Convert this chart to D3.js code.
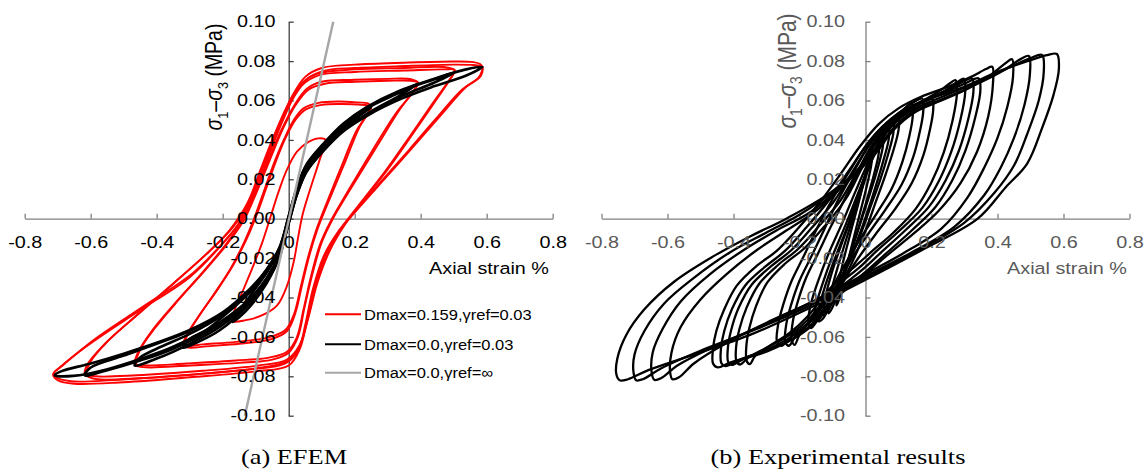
<!DOCTYPE html>
<html>
<head>
<meta charset="utf-8">
<script src="https://cdn.jsdelivr.net/npm/d3@7"></script>
<style>
  body { margin: 0; background: #fff; }
  svg { display: block; }
</style>
</head>
<body>
<div id="chart"></div>
<script>
const svgWidth = 1146;
const svgHeight = 469;

// ticks
const xTickVals = [-0.8, -0.6, -0.4, -0.2, 0, 0.2, 0.4, 0.6, 0.8];
const yTickVals = [0.1, 0.08, 0.06, 0.04, 0.02, 0, -0.02, -0.04, -0.06, -0.08, -0.1];

// (a) EFEM -- Dmax=0.159, yref=0.03 (red)
const redA = [[0.112,0.040],[0.094,0.030],[0.064,0.0144],[0.042,0.002],[0.028,-0.010],[0.015,-0.022],[-0.005,-0.034],[-0.035,-0.044],[-0.08,-0.049],[-0.13,-0.0515],[-0.17,-0.052],[-0.165,-0.047],[-0.14,-0.037],[-0.11,-0.025],[-0.08,-0.012],[-0.055,0.001],[-0.03,0.014],[-0.005,0.025],[0.025,0.034],[0.06,0.039],[0.09,0.0408]];
const redB = [[0.25,0.057],[0.235,0.052],[0.215,0.0466],[0.164,0.026],[0.114,0.006],[0.088,-0.005],[0.062,-0.019],[0.04,-0.034],[0.02,-0.048],[-0.005,-0.057],[-0.05,-0.061],[-0.15,-0.0635],[-0.25,-0.0648],[-0.30,-0.0655],[-0.32,-0.0645],[-0.312,-0.060],[-0.275,-0.050],[-0.225,-0.038],[-0.175,-0.025],[-0.135,-0.012],[-0.105,0.0],[-0.075,0.014],[-0.045,0.028],[-0.015,0.040],[0.015,0.050],[0.045,0.056],[0.09,0.0588],[0.15,0.0595],[0.21,0.059],[0.24,0.0585]];
const redB2 = [[0.25,0.057],[0.228,0.0505],[0.205,0.0445],[0.155,0.0245],[0.108,0.005],[0.083,-0.006],[0.058,-0.02],[0.036,-0.035],[0.016,-0.0485],[-0.01,-0.0565],[-0.06,-0.0602],[-0.16,-0.0625],[-0.26,-0.0638],[-0.305,-0.0645],[-0.315,-0.0632],[-0.305,-0.0585],[-0.268,-0.0485],[-0.218,-0.0365],[-0.168,-0.0235],[-0.128,-0.0105],[-0.098,0.0015],[-0.068,0.0155],[-0.038,0.0295],[-0.008,0.0415],[0.022,0.0505],[0.052,0.0555],[0.1,0.0578],[0.16,0.0582],[0.22,0.0578]];
const redC = [[0.392,0.069],[0.375,0.064],[0.336,0.0553],[0.266,0.0364],[0.185,0.0144],[0.134,0.0],[0.10,-0.012],[0.072,-0.028],[0.048,-0.045],[0.028,-0.06],[0.0,-0.068],[-0.05,-0.0715],[-0.15,-0.0732],[-0.30,-0.0745],[-0.42,-0.0755],[-0.455,-0.075],[-0.467,-0.074],[-0.457,-0.068],[-0.415,-0.057],[-0.345,-0.043],[-0.265,-0.028],[-0.195,-0.014],[-0.145,-0.002],[-0.105,0.012],[-0.065,0.028],[-0.025,0.044],[0.015,0.057],[0.055,0.066],[0.10,0.0695],[0.2,0.0705],[0.3,0.071],[0.37,0.0708]];
const redC2 = [[0.392,0.069],[0.368,0.0625],[0.325,0.0535],[0.255,0.035],[0.178,0.0135],[0.128,-0.001],[0.095,-0.013],[0.068,-0.029],[0.045,-0.046],[0.024,-0.0605],[-0.005,-0.0675],[-0.06,-0.0705],[-0.16,-0.072],[-0.31,-0.0735],[-0.43,-0.0745],[-0.462,-0.0738],[-0.45,-0.0665],[-0.405,-0.0555],[-0.335,-0.0415],[-0.255,-0.0265],[-0.185,-0.0125],[-0.135,-0.0005],[-0.097,0.0135],[-0.058,0.0295],[-0.018,0.0455],[0.02,0.0575],[0.06,0.0655],[0.11,0.0685],[0.2,0.0695],[0.3,0.07],[0.37,0.07]];
const redD = [[0.503,0.0754],[0.49,0.071],[0.45,0.061],[0.38,0.044],[0.30,0.025],[0.22,0.008],[0.17,-0.003],[0.125,-0.016],[0.088,-0.032],[0.06,-0.05],[0.035,-0.064],[0.0,-0.072],[-0.08,-0.0755],[-0.25,-0.0785],[-0.45,-0.081],[-0.58,-0.0815],[-0.61,-0.080],[-0.618,-0.079],[-0.61,-0.074],[-0.56,-0.064],[-0.46,-0.049],[-0.35,-0.033],[-0.25,-0.018],[-0.18,-0.006],[-0.125,0.008],[-0.085,0.025],[-0.045,0.042],[-0.005,0.057],[0.035,0.068],[0.085,0.0735],[0.2,0.0758],[0.35,0.0765],[0.47,0.077]];
const redD2 = [[0.503,0.0754],[0.483,0.0695],[0.44,0.0595],[0.37,0.0425],[0.29,0.0235],[0.212,0.0068],[0.163,-0.004],[0.12,-0.017],[0.084,-0.033],[0.057,-0.051],[0.032,-0.0645],[-0.005,-0.0715],[-0.09,-0.0745],[-0.26,-0.0772],[-0.46,-0.0795],[-0.585,-0.080],[-0.612,-0.0788],[-0.6,-0.0725],[-0.55,-0.0625],[-0.45,-0.0475],[-0.34,-0.0315],[-0.24,-0.0165],[-0.17,-0.0045],[-0.117,0.009],[-0.078,0.026],[-0.038,0.043],[0.002,0.058],[0.042,0.068],[0.09,0.0728],[0.2,0.0745],[0.35,0.0752],[0.47,0.0758]];
const redE = [[0.587,0.077],[0.582,0.0725],[0.538,0.067],[0.458,0.052],[0.377,0.0364],[0.296,0.0212],[0.215,0.006],[0.155,-0.006],[0.112,-0.018],[0.078,-0.035],[0.054,-0.053],[0.034,-0.066],[0.0,-0.0745],[-0.1,-0.0775],[-0.3,-0.0805],[-0.5,-0.083],[-0.65,-0.0838],[-0.70,-0.082],[-0.714,-0.079],[-0.694,-0.0755],[-0.603,-0.0636],[-0.452,-0.0466],[-0.30,-0.0297],[-0.2,-0.0127],[-0.15,-0.002],[-0.11,0.012],[-0.07,0.030],[-0.03,0.047],[0.01,0.062],[0.05,0.072],[0.10,0.0765],[0.2,0.0782],[0.35,0.0792],[0.5,0.0798],[0.56,0.0795],[0.58,0.0785]];
const redE2 = [[0.587,0.077],[0.575,0.0715],[0.525,0.0655],[0.445,0.0505],[0.365,0.035],[0.285,0.0198],[0.205,0.0045],[0.148,-0.007],[0.106,-0.019],[0.073,-0.036],[0.05,-0.054],[0.03,-0.0665],[-0.01,-0.0735],[-0.12,-0.0765],[-0.32,-0.0795],[-0.52,-0.0818],[-0.66,-0.0825],[-0.705,-0.0805],[-0.712,-0.0785],[-0.685,-0.0745],[-0.59,-0.0615],[-0.44,-0.0445],[-0.29,-0.0275],[-0.19,-0.0105],[-0.14,0.0],[-0.10,0.014],[-0.06,0.032],[-0.02,0.049],[0.02,0.063],[0.06,0.0715],[0.11,0.0752],[0.2,0.0765],[0.35,0.0775],[0.5,0.0782],[0.56,0.078],[0.58,0.0775]];

// (a) EFEM -- Dmax=0.0, yref=0.03 (black)
const blackK1 = [[0.112,0.0375],[0.08,0.0315],[0.054,0.0249],[0.025,0.0133],[0.0,-0.001],[-0.027,-0.019],[-0.067,-0.0328],[-0.117,-0.0445],[-0.15,-0.050],[-0.17,-0.0525],[-0.15,-0.047],[-0.117,-0.0392],[-0.067,-0.0275],[-0.027,-0.0155],[0.0,0.0003],[0.025,0.0148],[0.054,0.0265],[0.09,0.0345]];
const blackK2 = [[0.25,0.0565],[0.2,0.0505],[0.14,0.0418],[0.104,0.0352],[0.054,0.0246],[0.025,0.013],[0.0,-0.0015],[-0.027,-0.0185],[-0.067,-0.0318],[-0.117,-0.0428],[-0.208,-0.0565],[-0.28,-0.063],[-0.32,-0.0655],[-0.3,-0.061],[-0.25,-0.0565],[-0.2,-0.0498],[-0.117,-0.0372],[-0.067,-0.0268],[-0.027,-0.0152],[0.0,0.0005],[0.025,0.015],[0.054,0.0268],[0.104,0.037],[0.165,0.047],[0.22,0.0535]];
const blackK3 = [[0.392,0.0685],[0.336,0.0625],[0.24,0.0535],[0.165,0.045],[0.104,0.0348],[0.054,0.0243],[0.025,0.0128],[0.0,-0.0018],[-0.027,-0.018],[-0.067,-0.031],[-0.117,-0.0418],[-0.208,-0.0548],[-0.30,-0.0635],[-0.40,-0.071],[-0.467,-0.0745],[-0.45,-0.0705],[-0.4,-0.066],[-0.3,-0.0585],[-0.2,-0.0488],[-0.117,-0.0365],[-0.067,-0.0262],[-0.027,-0.0148],[0.0,0.0008],[0.025,0.0152],[0.054,0.027],[0.104,0.0372],[0.165,0.0474],[0.235,0.0558],[0.336,0.064]];
const blackK4 = [[0.503,0.0742],[0.44,0.0690],[0.34,0.0620],[0.24,0.0532],[0.165,0.0447],[0.104,0.0345],[0.054,0.0240],[0.025,0.0125],[0.0,-0.002],[-0.027,-0.0175],[-0.067,-0.0305],[-0.117,-0.041],[-0.208,-0.0535],[-0.35,-0.066],[-0.45,-0.072],[-0.552,-0.077],[-0.618,-0.0795],[-0.6,-0.0755],[-0.5,-0.0695],[-0.4,-0.0635],[-0.3,-0.057],[-0.2,-0.048],[-0.117,-0.036],[-0.067,-0.026],[-0.027,-0.0145],[0.0,0.001],[0.025,0.0155],[0.054,0.0272],[0.104,0.0375],[0.165,0.0478],[0.235,0.0562],[0.336,0.0645],[0.437,0.0705]];
const blackK5 = [[0.587,0.077],[0.54,0.0728],[0.44,0.0672],[0.34,0.0608],[0.24,0.0525],[0.165,0.0443],[0.104,0.0342],[0.054,0.0238],[0.025,0.0122],[0.0,-0.0025],[-0.027,-0.0178],[-0.067,-0.0302],[-0.117,-0.0405],[-0.208,-0.0525],[-0.35,-0.065],[-0.45,-0.0712],[-0.552,-0.0765],[-0.653,-0.0798],[-0.709,-0.0795],[-0.69,-0.0775],[-0.6,-0.0735],[-0.5,-0.0685],[-0.4,-0.063],[-0.3,-0.0565],[-0.2,-0.0475],[-0.117,-0.0355],[-0.067,-0.0258],[-0.027,-0.0142],[0.0,0.0015],[0.025,0.0158],[0.054,0.0275],[0.104,0.0378],[0.165,0.0482],[0.235,0.0565],[0.336,0.065],[0.437,0.0708],[0.538,0.0758]];

// (a) EFEM -- Dmax=0.0, yref=inf (gray straight line)
const grayLine = [[-0.133,-0.1],[0.135,0.1]];

const legendLabels = ["Dmax=0.159,γref=0.03", "Dmax=0.0,γref=0.03", "Dmax=0.0,γref=∞"];
const legendColors = ["#ff0000", "#000000", "#a6a6a6"];

// (b) Experimental results -- big cycles
const expB1 = [[0.444,0.0809],[0.447,0.072],[0.43,0.057],[0.40,0.041],[0.36,0.026],[0.31,0.011],[0.23,-0.005],[0.11,-0.018],[0.0,-0.028],[-0.16,-0.042],[-0.29,-0.052],[-0.42,-0.063],[-0.52,-0.0735],[-0.565,-0.0805],[-0.585,-0.0815],[-0.592,-0.078],[-0.588,-0.068],[-0.56,-0.055],[-0.50,-0.041],[-0.42,-0.028],[-0.33,-0.016],[-0.24,-0.006],[-0.15,0.004],[-0.06,0.018],[0.03,0.033],[0.085,0.045],[0.15,0.054],[0.23,0.06],[0.31,0.066],[0.38,0.073],[0.425,0.079]];
const expB2 = [[0.495,0.0826],[0.498,0.073],[0.482,0.058],[0.45,0.041],[0.41,0.026],[0.36,0.012],[0.27,-0.004],[0.13,-0.018],[0.0,-0.029],[-0.17,-0.043],[-0.31,-0.054],[-0.46,-0.065],[-0.57,-0.0745],[-0.62,-0.0810],[-0.64,-0.0818],[-0.648,-0.078],[-0.645,-0.068],[-0.615,-0.056],[-0.56,-0.042],[-0.47,-0.028],[-0.37,-0.016],[-0.27,-0.006],[-0.17,0.003],[-0.07,0.017],[0.025,0.033],[0.08,0.045],[0.14,0.054],[0.23,0.0605],[0.32,0.067],[0.41,0.0745],[0.47,0.081]];
const expB3 = [[0.535,0.0831],[0.540,0.074],[0.525,0.060],[0.49,0.043],[0.45,0.027],[0.39,0.013],[0.30,-0.002],[0.15,-0.017],[0.0,-0.030],[-0.18,-0.045],[-0.33,-0.056],[-0.50,-0.067],[-0.62,-0.076],[-0.675,-0.0815],[-0.695,-0.082],[-0.703,-0.078],[-0.70,-0.069],[-0.67,-0.057],[-0.61,-0.043],[-0.52,-0.030],[-0.41,-0.017],[-0.3,-0.007],[-0.2,0.002],[-0.08,0.016],[0.02,0.032],[0.07,0.045],[0.13,0.054],[0.22,0.061],[0.32,0.068],[0.42,0.0755],[0.5,0.0815]];
const expB4 = [[0.580,0.0836],[0.586,0.076],[0.570,0.063],[0.535,0.046],[0.49,0.028],[0.425,0.016],[0.34,0.0],[0.17,-0.016],[0.0,-0.031],[-0.19,-0.047],[-0.35,-0.059],[-0.52,-0.069],[-0.66,-0.077],[-0.72,-0.0815],[-0.745,-0.082],[-0.755,-0.079],[-0.752,-0.071],[-0.725,-0.059],[-0.67,-0.046],[-0.58,-0.032],[-0.46,-0.019],[-0.35,-0.009],[-0.24,0.0],[-0.1,0.014],[0.01,0.031],[0.06,0.044],[0.12,0.054],[0.2,0.061],[0.3,0.067],[0.4,0.0745],[0.5,0.0805],[0.55,0.083]];
// medium cycles
const expM1 = [[0.273,0.0703],[0.277,0.0635],[0.264,0.05],[0.237,0.0335],[0.2,0.0185],[0.152,0.005],[0.085,-0.007],[0.02,-0.0165],[-0.03,-0.024],[-0.105,-0.035],[-0.175,-0.0495],[-0.23,-0.058],[-0.29,-0.0645],[-0.335,-0.0698],[-0.35,-0.0738],[-0.36,-0.0722],[-0.361,-0.0645],[-0.352,-0.0555],[-0.332,-0.0445],[-0.298,-0.0325],[-0.245,-0.023],[-0.185,-0.015],[-0.125,-0.004],[-0.06,0.01],[-0.01,0.026],[0.03,0.038],[0.075,0.048],[0.125,0.055],[0.18,0.0605],[0.23,0.0655],[0.258,0.069]];
const expM2 = [[0.298,0.071],[0.302,0.064],[0.288,0.0505],[0.26,0.034],[0.222,0.019],[0.172,0.0055],[0.1,-0.0065],[0.03,-0.017],[-0.02,-0.025],[-0.1,-0.036],[-0.17,-0.0505],[-0.23,-0.059],[-0.30,-0.0655],[-0.355,-0.0705],[-0.38,-0.074],[-0.391,-0.0725],[-0.392,-0.065],[-0.382,-0.056],[-0.36,-0.045],[-0.322,-0.033],[-0.265,-0.0235],[-0.205,-0.0155],[-0.145,-0.0045],[-0.075,0.0095],[-0.02,0.0255],[0.02,0.0375],[0.07,0.0475],[0.12,0.0545],[0.18,0.06],[0.24,0.065],[0.275,0.069]];
const expM3 = [[0.323,0.0712],[0.327,0.0645],[0.312,0.051],[0.283,0.0345],[0.243,0.0195],[0.192,0.006],[0.12,-0.006],[0.045,-0.0175],[-0.01,-0.026],[-0.09,-0.037],[-0.165,-0.0515],[-0.225,-0.06],[-0.30,-0.0665],[-0.37,-0.0712],[-0.405,-0.0742],[-0.416,-0.0728],[-0.417,-0.0655],[-0.407,-0.0565],[-0.385,-0.0455],[-0.345,-0.0335],[-0.285,-0.024],[-0.225,-0.016],[-0.165,-0.005],[-0.095,0.009],[-0.035,0.025],[0.01,0.037],[0.06,0.047],[0.11,0.054],[0.175,0.0598],[0.24,0.0645],[0.29,0.069]];
const expM4 = [[0.343,0.0712],[0.348,0.065],[0.333,0.0517],[0.303,0.0347],[0.263,0.0195],[0.212,0.0059],[0.14,-0.006],[0.06,-0.018],[0.0,-0.027],[-0.08,-0.038],[-0.16,-0.053],[-0.22,-0.061],[-0.30,-0.0675],[-0.385,-0.072],[-0.425,-0.0748],[-0.437,-0.0732],[-0.438,-0.066],[-0.428,-0.057],[-0.405,-0.046],[-0.365,-0.034],[-0.305,-0.0245],[-0.245,-0.0165],[-0.185,-0.0055],[-0.115,0.0085],[-0.05,0.0245],[0.0,0.0365],[0.05,0.0465],[0.1,0.0535],[0.17,0.0595],[0.24,0.064],[0.3,0.0685]];
const expM5 = [[0.384,0.0771],[0.386,0.068],[0.372,0.052],[0.338,0.034],[0.288,0.018],[0.222,0.004],[0.15,-0.007],[0.07,-0.018],[0.0,-0.028],[-0.08,-0.039],[-0.16,-0.054],[-0.23,-0.062],[-0.32,-0.068],[-0.41,-0.073],[-0.448,-0.0755],[-0.462,-0.0735],[-0.462,-0.066],[-0.452,-0.057],[-0.428,-0.046],[-0.39,-0.034],[-0.33,-0.024],[-0.27,-0.0165],[-0.21,-0.006],[-0.14,0.008],[-0.07,0.024],[-0.02,0.036],[0.04,0.048],[0.1,0.056],[0.17,0.062],[0.25,0.067],[0.32,0.072],[0.365,0.076]];
// small cycles
const expS1 = [[0.14,0.0586],[0.143,0.052],[0.133,0.042],[0.112,0.029],[0.08,0.0155],[0.035,0.003],[-0.015,-0.01],[-0.065,-0.024],[-0.115,-0.039],[-0.165,-0.051],[-0.2,-0.059],[-0.215,-0.064],[-0.224,-0.061],[-0.22,-0.052],[-0.205,-0.042],[-0.18,-0.03],[-0.145,-0.018],[-0.105,-0.004],[-0.06,0.011],[-0.015,0.026],[0.025,0.038],[0.07,0.048],[0.11,0.0545]];
const expS2 = [[0.172,0.061],[0.175,0.0545],[0.165,0.0445],[0.145,0.0315],[0.11,0.0175],[0.06,0.0045],[0.005,-0.0085],[-0.05,-0.0225],[-0.105,-0.0385],[-0.16,-0.0505],[-0.21,-0.059],[-0.232,-0.0645],[-0.243,-0.0625],[-0.24,-0.0535],[-0.225,-0.0435],[-0.2,-0.0315],[-0.165,-0.0195],[-0.125,-0.0055],[-0.08,0.0105],[-0.03,0.0255],[0.015,0.0385],[0.065,0.0485],[0.115,0.0555],[0.15,0.0595]];
const expS3 = [[0.202,0.061],[0.205,0.055],[0.195,0.045],[0.175,0.032],[0.14,0.018],[0.09,0.005],[0.03,-0.008],[-0.03,-0.022],[-0.09,-0.038],[-0.15,-0.050],[-0.22,-0.059],[-0.255,-0.0645],[-0.268,-0.0625],[-0.265,-0.054],[-0.25,-0.044],[-0.225,-0.032],[-0.19,-0.02],[-0.15,-0.006],[-0.1,0.01],[-0.045,0.025],[0.005,0.038],[0.06,0.048],[0.12,0.055],[0.17,0.0595]];
// first, narrow cycles
const expT1 = [[0.101,0.0517],[0.10,0.045],[0.085,0.035],[0.06,0.022],[0.03,0.008],[0.0,-0.006],[-0.04,-0.022],[-0.09,-0.038],[-0.14,-0.050],[-0.165,-0.0555],[-0.173,-0.052],[-0.165,-0.043],[-0.14,-0.030],[-0.11,-0.017],[-0.07,-0.002],[-0.03,0.014],[0.01,0.029],[0.05,0.041],[0.08,0.048]];
const expT2 = [[0.086,0.05],[0.084,0.043],[0.069,0.033],[0.045,0.02],[0.015,0.006],[-0.015,-0.008],[-0.055,-0.024],[-0.1,-0.04],[-0.138,-0.0505],[-0.157,-0.053],[-0.153,-0.046],[-0.13,-0.033],[-0.1,-0.019],[-0.06,-0.003],[-0.02,0.014],[0.02,0.03],[0.055,0.042],[0.075,0.047]];
const expT3 = [[0.071,0.0466],[0.07,0.040],[0.055,0.030],[0.032,0.017],[0.005,0.003],[-0.025,-0.011],[-0.06,-0.026],[-0.1,-0.041],[-0.128,-0.0505],[-0.142,-0.052],[-0.14,-0.045],[-0.12,-0.033],[-0.09,-0.019],[-0.055,-0.004],[-0.02,0.013],[0.015,0.028],[0.045,0.039],[0.062,0.0445]];
const expT4 = [[0.055,0.043],[0.052,0.036],[0.036,0.025],[0.012,0.012],[-0.015,-0.002],[-0.045,-0.017],[-0.08,-0.033],[-0.108,-0.045],[-0.127,-0.049],[-0.124,-0.042],[-0.105,-0.029],[-0.075,-0.014],[-0.04,0.002],[-0.008,0.019],[0.025,0.033],[0.046,0.04]];
const expT5 = [[0.041,0.0398],[0.04,0.033],[0.025,0.022],[0.005,0.01],[-0.02,-0.004],[-0.05,-0.02],[-0.08,-0.035],[-0.1,-0.045],[-0.112,-0.048],[-0.11,-0.041],[-0.09,-0.028],[-0.065,-0.014],[-0.035,0.002],[-0.005,0.018],[0.02,0.031],[0.035,0.037]];
const expT6 = [[0.02,0.036],[0.018,0.028],[0.003,0.016],[-0.018,0.002],[-0.042,-0.014],[-0.065,-0.03],[-0.08,-0.041],[-0.088,-0.044],[-0.085,-0.036],[-0.068,-0.022],[-0.045,-0.007],[-0.018,0.01],[0.005,0.026],[0.016,0.033]];

const svg = d3.select("#chart").append("svg")
    .attr("width", svgWidth)
    .attr("height", svgHeight)
    .style("font-family", "'Liberation Sans', Arial, sans-serif");

const yScale = d3.scaleLinear().domain([-0.1, 0.1]).range([415.7, 21.7]);
const stretch = 1.2;   // the original figure is a bit wider than tall

function panel(opt) {
    const x = d3.scaleLinear().domain([-0.8, 0.8]).range(opt.xRange);
    const y = yScale;
    const g = svg.append("g");

    // axis lines + tick marks (under the data)
    g.append("g")
        .attr("transform", `translate(0,${y(0)})`)
        .call(d3.axisBottom(x).tickValues(xTickVals).tickSizeInner(-5).tickSizeOuter(0).tickFormat(""))
        .call(a => a.selectAll("path,line").attr("stroke", opt.xAxisColor).attr("stroke-width", 1.3));
    g.append("g")
        .attr("transform", `translate(${x(0)},0)`)
        .call(d3.axisLeft(y).tickValues(yTickVals).tickSizeInner(-5).tickSizeOuter(0).tickFormat(""))
        .call(a => a.selectAll("path,line").attr("stroke", opt.yAxisColor).attr("stroke-width", 1.3));

    const line = d3.line()
        .x(d => x(d[0]))
        .y(d => y(d[1]));

    opt.series.forEach(s => {
        const ln = s.closed ? line.curve(d3.curveCatmullRomClosed.alpha(0.5)) : line.curve(d3.curveLinear);
        g.append("g").selectAll("path")
            .data(s.loops)
            .enter()
            .append("path")
            .attr("d", d => ln(d))
            .attr("fill", "none")
            .attr("stroke", s.color)
            .attr("stroke-width", s.width)
            .attr("stroke-linejoin", "round");
    });

    // tick labels on top of the data
    const xl = g.append("g")
        .attr("transform", `translate(0,${y(0)})`)
        .call(d3.axisBottom(x).tickValues(xTickVals).tickSize(0).tickPadding(18)
            .tickFormat(d => d === 0 ? "0" : d.toFixed(1)));
    const yl = g.append("g")
        .attr("transform", `translate(${x(0)},0)`)
        .call(d3.axisLeft(y).tickValues(yTickVals).tickSize(0).tickPadding(opt.yPad)
            .tickFormat(d => d.toFixed(2)));
    [xl, yl].forEach(a => {
        a.select(".domain").remove();
        a.selectAll("line").remove();
        a.attr("font-family", null).attr("font-size", 16.5);
        a.selectAll("text").attr("fill", opt.textColor).attr("transform", `scale(${stretch},1)`);
    });

    // axis titles
    g.append("text")
        .attr("transform", `translate(${opt.xTitle[0]},${opt.xTitle[1]}) scale(${stretch},1)`)
        .attr("text-anchor", "middle")
        .attr("dy", "0.35em")
        .attr("font-size", 16.5)
        .attr("fill", opt.textColor)
        .text("Axial strain %");

    const yt = g.append("text")
        .attr("transform", `translate(${opt.yTitle[0]},${opt.yTitle[1]}) scale(${stretch},1) rotate(-90)`)
        .attr("text-anchor", "middle")
        .attr("dy", "0.35em")
        .attr("font-size", opt.yTitleSize)
        .attr("fill", opt.textColor);
    yt.append("tspan").attr("font-style", "italic").text("σ");
    yt.append("tspan").attr("font-size", opt.yTitleSize * 0.65).attr("dy", 5).text("1");
    yt.append("tspan").attr("dy", -5).text("–");
    yt.append("tspan").attr("font-style", "italic").text("σ");
    yt.append("tspan").attr("font-size", opt.yTitleSize * 0.65).attr("dy", 5).text("3");
    yt.append("tspan").attr("dy", -5).text(" (MPa)");

    // caption under the panel
    g.append("text")
        .attr("transform", `translate(${opt.caption[0]},464) scale(${stretch},1)`)
        .attr("text-anchor", "middle")
        .attr("font-family", "'Liberation Serif', 'Times New Roman', serif")
        .attr("font-size", 22)
        .attr("fill", "#000")
        .text(opt.caption[1]);

    return g;
}

// (a) EFEM
const left = panel({
    xRange: [24.7, 552.7],
    xAxisColor: "#808080",
    yAxisColor: "#404040",
    textColor: "#000",
    yPad: 11,
    xTitle: [489, 268],
    yTitle: [214, 77],
    yTitleSize: 19.5,
    caption: [294, "(a) EFEM"],
    series: [
        { loops: [redA, redB, redB2, redC, redC2, redD, redD2, redE, redE2], color: "#ff0000", width: 1.9, closed: true },
        { loops: [blackK1, blackK2, blackK3, blackK4, blackK5], color: "#000000", width: 2.6, closed: true },
        { loops: [grayLine], color: "#a6a6a6", width: 2.4, closed: false }
    ]
});

// legend
const legend = left.append("g").selectAll("g")
    .data(legendLabels)
    .enter()
    .append("g")
    .attr("transform", (d, i) => `translate(325,${[314.3, 344.3, 372.7][i]})`);
legend.append("line")
    .attr("x1", 0).attr("x2", 36)
    .attr("stroke", (d, i) => legendColors[i])
    .attr("stroke-width", 2);
legend.append("text")
    .attr("transform", "translate(39,0) scale(1.1,1)")
    .attr("dy", "0.35em")
    .attr("font-size", 15)
    .attr("fill", "#000")
    .text(d => d);

// (b) Experimental results
panel({
    xRange: [601.5, 1129.5],
    xAxisColor: "#808080",
    yAxisColor: "#808080",
    textColor: "#595959",
    yPad: 17,
    xTitle: [1067, 268],
    yTitle: [787, 71],
    yTitleSize: 21,
    caption: [838, "(b) Experimental results"],
    series: [
        { loops: [expT1, expT2, expT3, expT4, expT5, expT6, expS1, expS2, expS3,
                  expM1, expM2, expM3, expM4, expM5, expB1, expB2, expB3, expB4],
          color: "#000000", width: 2.3, closed: true }
    ]
});
</script>
</body>
</html>
